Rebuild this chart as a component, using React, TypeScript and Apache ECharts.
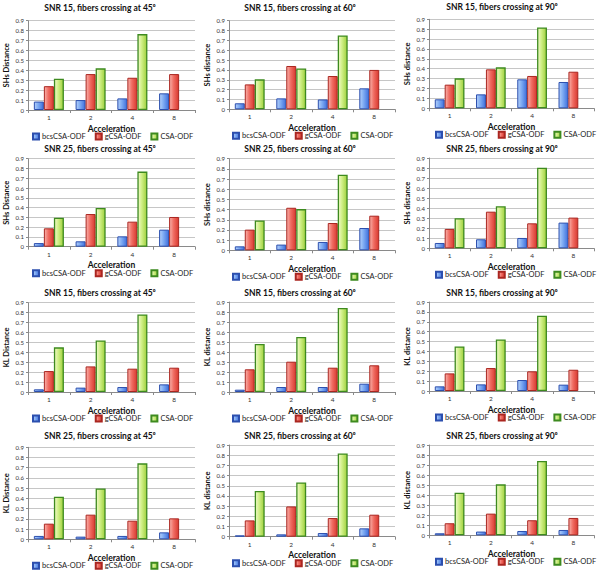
import React, { useEffect, useRef } from "react";
import * as echarts from "echarts";

const categories = ["1", "2", "4", "8"];
const seriesNames = ["bcsCSA-ODF", "gCSA-ODF", "CSA-ODF"];
const panelTitles = [
  "SNR 15, fibers crossing at 45⁰",
  "SNR 15, fibers crossing at 60⁰",
  "SNR 15, fibers crossing at 90⁰",
  "SNR 25, fibers crossing at 45⁰",
  "SNR 25, fibers crossing at 60⁰",
  "SNR 25, fibers crossing at 90⁰",
  "SNR 15, fibers crossing at 45⁰",
  "SNR 15, fibers crossing at 60⁰",
  "SNR 15, fibers crossing at 90⁰",
  "SNR 25, fibers crossing at 45⁰",
  "SNR 25, fibers crossing at 60⁰",
  "SNR 25, fibers crossing at 90⁰",
];
const yAxisNames = [
  "SHs Distance", "SHs distance", "SHs distance",
  "SHs Distance", "SHs distance", "SHs distance",
  "KL Distance", "KL distance", "KL distance",
  "KL Distance", "KL distance", "KL distance",
];
const xAxisName = "Acceleration";

// values per panel, categories 1, 2, 4, 8
const bcsValues = [
  [0.085, 0.1, 0.117, 0.168],
  [0.061, 0.111, 0.1, 0.213],
  [0.091, 0.141, 0.293, 0.266],
  [0.037, 0.055, 0.106, 0.174],
  [0.039, 0.056, 0.082, 0.219],
  [0.053, 0.09, 0.103, 0.256],
  [0.027, 0.044, 0.05, 0.077],
  [0.023, 0.05, 0.05, 0.083],
  [0.047, 0.067, 0.111, 0.064],
  [0.033, 0.026, 0.033, 0.068],
  [0.013, 0.023, 0.036, 0.082],
  [0.02, 0.037, 0.043, 0.053],
];
const gcsaValues = [
  [0.24, 0.362, 0.325, 0.362],
  [0.253, 0.44, 0.338, 0.4],
  [0.239, 0.394, 0.327, 0.37],
  [0.188, 0.334, 0.256, 0.304],
  [0.203, 0.418, 0.268, 0.34],
  [0.193, 0.365, 0.249, 0.306],
  [0.211, 0.258, 0.235, 0.245],
  [0.227, 0.303, 0.243, 0.267],
  [0.178, 0.232, 0.199, 0.215],
  [0.153, 0.241, 0.182, 0.205],
  [0.16, 0.297, 0.183, 0.216],
  [0.12, 0.216, 0.15, 0.173],
];
const csaValues = [
  [0.315, 0.42, 0.765, null],
  [0.304, 0.415, 0.75, null],
  [0.303, 0.414, 0.818, null],
  [0.297, 0.396, 0.768, null],
  [0.294, 0.405, 0.742, null],
  [0.299, 0.419, 0.804, null],
  [0.45, 0.52, 0.782, null],
  [0.48, 0.55, 0.84, null],
  [0.451, 0.522, 0.761, null],
  [0.417, 0.498, 0.743, null],
  [0.448, 0.533, 0.817, null],
  [0.425, 0.508, 0.741, null],
];

// layout (pixels)
const colLeft = [28, 229, 429];
const colRight = [195, 395, 594];
const titleCenterX = [100, 300, 502];
const legendLeft = [32, 232, 435];
const gridTop = [20.7, 20.7, 19.3, 158.7, 158.7, 158, 302.7, 302, 302, 447.3, 445, 445];
const gridBottom = [110, 109.3, 108.3, 246.7, 250.3, 248.3, 392, 392, 391, 539.3, 536.7, 535.3];
const titleY = [8, 8, 7, 148.5, 148.5, 148.5, 293, 293, 293, 436, 436, 436];

const FONT = "Lato, 'Open Sans', sans-serif";

const grad = (a: string, b: string, c: string) => ({
  type: "linear",
  x: 0, y: 0, x2: 1, y2: 0,
  colorStops: [
    { offset: 0, color: a },
    { offset: 0.45, color: b },
    { offset: 1, color: c },
  ],
});
const fills = [
  grad("#b3d0fa", "#7aa8f2", "#3f6fdc"),
  grad("#f8b2ab", "#f06c62", "#d8392f"),
  grad("#f1fac8", "#cdee82", "#9fd03e"),
];
const borders = ["#2c4fae", "#aa2620", "#3d8a1f"];
const dataSets = [bcsValues, gcsaValues, csaValues];

export default function App() {
  const ref = useRef<HTMLDivElement>(null);
  useEffect(() => {
    if (!ref.current) return;
    const chart = echarts.init(ref.current, undefined, { renderer: "svg" });
    const grids: any[] = [];
    const xAxes: any[] = [];
    const yAxes: any[] = [];
    const legends: any[] = [];
    const series: any[] = [];
    const graphics: any[] = [];
    for (let i = 0; i < 12; i++) {
      const col = i % 3;
      grids.push({
        left: colLeft[col],
        top: gridTop[i],
        width: colRight[col] - colLeft[col],
        height: gridBottom[i] - gridTop[i],
      });
      xAxes.push({
        type: "category",
        gridIndex: i,
        data: categories,
        axisLine: { lineStyle: { color: "#8a8a8a", width: 1 } },
        axisTick: { show: true, length: 3, lineStyle: { color: "#8a8a8a" } },
        axisLabel: { fontSize: 6.5, color: "#333", margin: 4, fontFamily: FONT },
        name: xAxisName,
        nameLocation: "middle",
        nameGap: 14,
        nameTextStyle: { fontSize: 8.5, fontWeight: "bold", color: "#111", fontFamily: FONT },
      });
      yAxes.push({
        type: "value",
        gridIndex: i,
        min: 0,
        max: 0.9,
        interval: 0.1,
        axisLine: { show: true, lineStyle: { color: "#8a8a8a", width: 1 } },
        axisTick: { show: true, length: 2, lineStyle: { color: "#8a8a8a" } },
        axisLabel: {
          fontSize: 6,
          color: "#333",
          margin: 4,
          fontFamily: FONT,
          formatter: (v: number) => (v === 0 ? "0" : v.toFixed(1)),
        },
        splitLine: { show: true, lineStyle: { color: "#b8b8b8", width: 0.8 } },
        name: yAxisNames[i],
        nameLocation: "middle",
        nameGap: 18,
        nameRotate: 90,
        nameTextStyle: { fontSize: 7.5, fontWeight: "bold", color: "#111", fontFamily: FONT },
      });
      legends.push({
        data: seriesNames.map((n) => ({ name: n, icon: "rect" })),
        left: legendLeft[col],
        top: gridBottom[i] + 22.5,
        orient: "horizontal",
        width: 175,
        itemWidth: 6,
        itemHeight: 6,
        itemGap: 9,
        padding: 0,
        selectedMode: false,
        textStyle: { fontSize: 7.5, color: "#222", fontFamily: FONT, padding: [0, 0, 0, -2] },
      });
      graphics.push({
        type: "text",
        x: titleCenterX[col],
        y: titleY[i],
        style: {
          text: panelTitles[i],
          font: `bold 8.5px ${FONT}`,
          fill: "#111",
          textAlign: "center",
          textVerticalAlign: "middle",
        },
      });
      for (let s = 0; s < 3; s++) {
        series.push({
          type: "bar",
          name: seriesNames[s],
          xAxisIndex: i,
          yAxisIndex: i,
          data: dataSets[s][i],
          barGap: "0%",
          barCategoryGap: "28%",
          itemStyle: {
            color: fills[s],
            borderColor: borders[s],
            borderWidth: s === 2 ? 1.3 : 1,
          },
        });
      }
    }
    chart.setOption({
      animation: false,
      backgroundColor: "#ffffff",
      grid: grids,
      xAxis: xAxes,
      yAxis: yAxes,
      legend: legends,
      series,
      graphic: graphics,
    });
    return () => chart.dispose();
  }, []);
  return (
    <div
      ref={ref}
      style={{ position: "fixed", left: 0, top: 0, width: 604, height: 573 }}
    />
  );
}
